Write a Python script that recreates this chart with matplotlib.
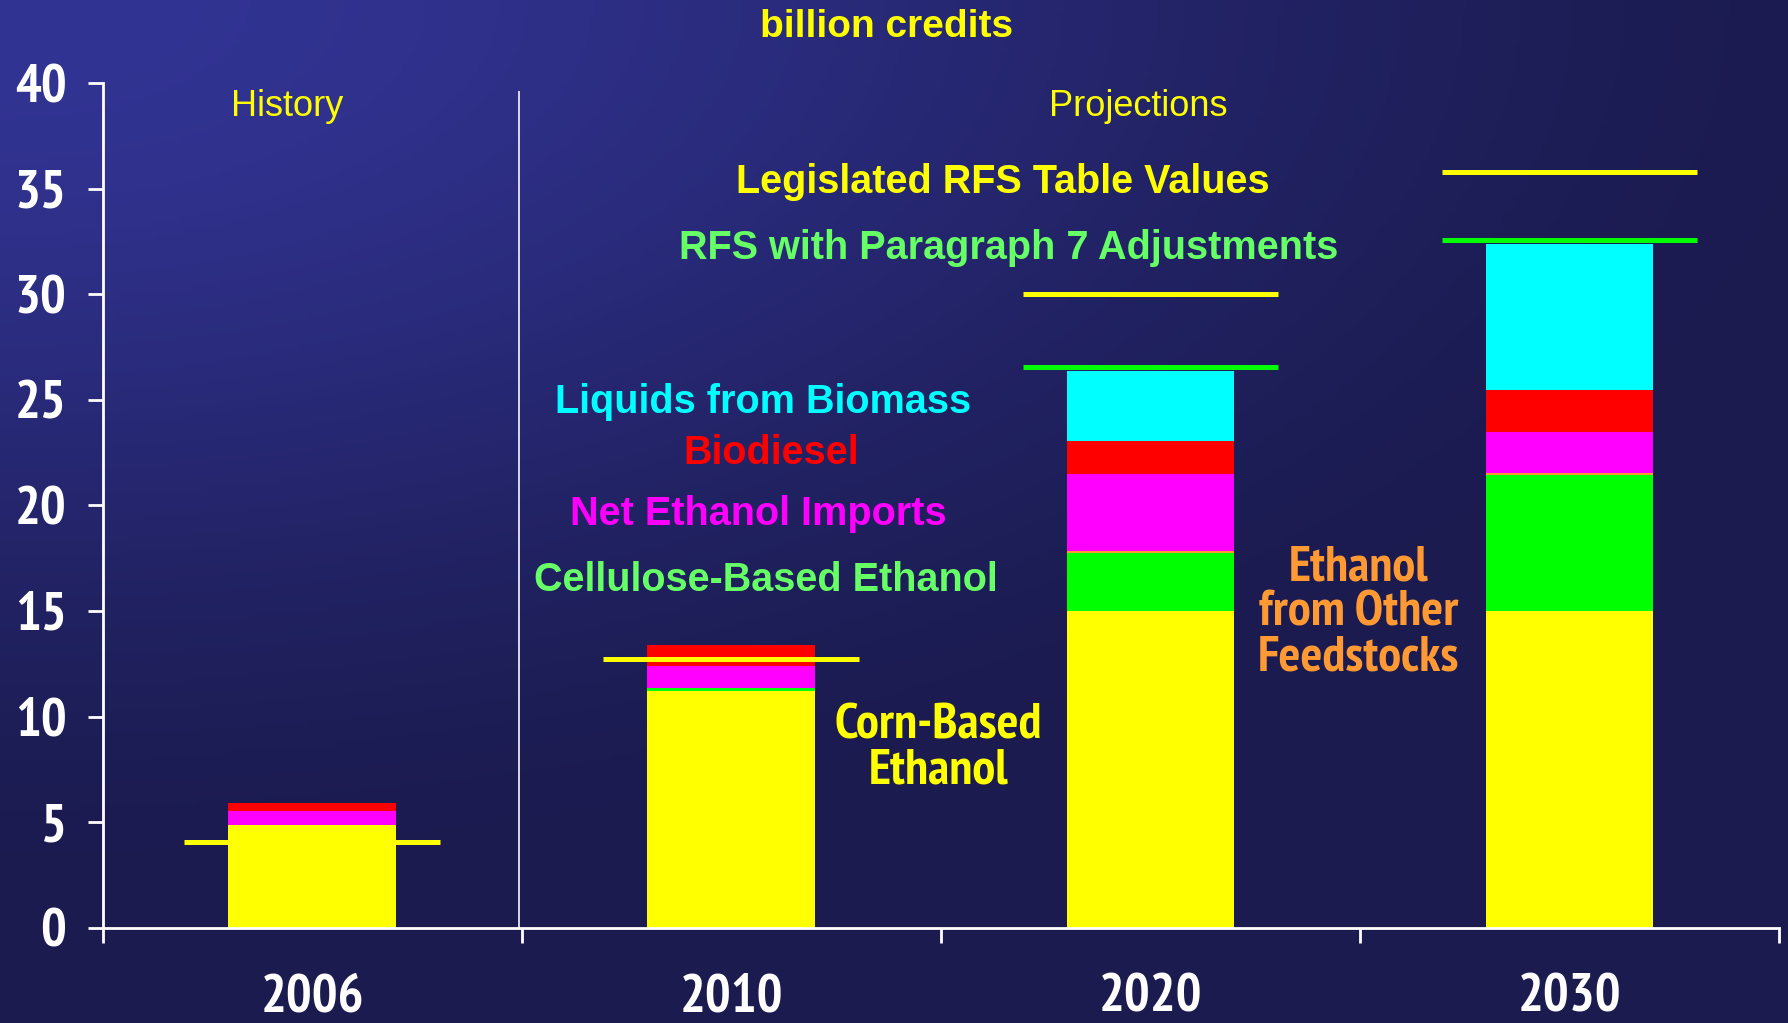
import numpy as np
import matplotlib.pyplot as plt
from matplotlib import font_manager as fm

# ---- data (billion credits) ----
years = ["2006", "2010", "2020", "2030"]
corn = [4.86, 11.2, 15.0, 15.0]
cellulose = [0.0, 0.16, 2.73, 6.46]
other_feed = [0.0, 0.0, 0.11, 0.08]
net_imports = [0.66, 1.05, 3.65, 1.94]
biodiesel = [0.38, 0.98, 1.58, 1.99]
biomass = [0.0, 0.0, 3.3, 6.94]
rfs_table = [4.07, 12.72, 30.0, 35.8]
rfs_adjusted = [np.nan, np.nan, 26.55, 32.58]

layers = [
    (corn, "#FFFF00"),
    (cellulose, "#00FF00"),
    (other_feed, "#FF9933"),
    (net_imports, "#FF00FF"),
    (biodiesel, "#FF0000"),
    (biomass, "#00FFFF"),
]

# pick a condensed face that has a real bold for the axis numbers and bar notes
bold_faces = {f.name for f in fm.fontManager.ttflist
              if isinstance(f.weight, int) and f.weight >= 700 or f.weight == "bold"}
narrow_pref = ["Liberation Sans Narrow", "Arial Narrow", "Archivo Narrow",
               "PT Sans Narrow", "Roboto Condensed", "Fira Sans Condensed",
               "IBM Plex Sans Condensed", "Asap Condensed", "Barlow Semi Condensed",
               "Encode Sans Condensed", "Saira SemiCondensed"]
narrow = next((n for n in narrow_pref if n in bold_faces), "Liberation Sans")
BOLD = ["Liberation Sans", "DejaVu Sans"]
NARROW = [narrow, "Liberation Sans", "DejaVu Sans"]

W, H = 1788, 1023
fig = plt.figure(figsize=(W / 100, H / 100), dpi=100)

# background: blue glow in the upper left fading to navy
bg = fig.add_axes([0, 0, 1, 1], zorder=-10)
gx, gy = np.meshgrid(np.linspace(0, 1, 400), np.linspace(0, 1, 240))
t = np.clip(np.sqrt((gx / 1.1) ** 2 + (gy / 0.9) ** 2), 0, 1)
t = t * t * (3 - 2 * t)
c0 = np.array([50, 52, 148]) / 255
c1 = np.array([27, 27, 80]) / 255
img = c0[None, None, :] * (1 - t[..., None]) + c1[None, None, :] * t[..., None]
bg.imshow(img, extent=[0, 1, 0, 1], aspect="auto", origin="upper")
bg.axis("off")

ax = fig.add_axes([102.6 / W, 1 - 927.5 / H, (1779 - 102.6) / W, (927.5 - 83.5) / H])
ax.patch.set_visible(False)

x = np.arange(len(years))
bottom = np.zeros(len(years))
for vals, col in layers:
    vals = np.array(vals)
    ax.bar(x, vals, width=0.4, bottom=bottom, color=col, linewidth=0, zorder=2)
    bottom += vals

ax.hlines(rfs_table, x - 0.305, x + 0.305, color="#FFFF00", lw=3.6, zorder=3)
ax.hlines(rfs_adjusted, x - 0.305, x + 0.305, color="#00FF00", lw=3.6, zorder=3)

# history / projections divider
ax.plot([0.4936, 0.4936], [0, 39.6], color="#d8d8e8", lw=1.4, zorder=1)

ax.set_xlim(-0.5, 3.5)
ax.set_ylim(0, 40)
for s in ["top", "right"]:
    ax.spines[s].set_visible(False)
for s in ["left", "bottom"]:
    ax.spines[s].set_color("white")
    ax.spines[s].set_linewidth(2)

ax.set_yticks(range(0, 41, 5))
ax.set_yticklabels([str(v) for v in range(0, 41, 5)], family=NARROW,
                   fontweight="bold", fontsize=39, color="white")
ax.tick_params(axis="y", direction="out", length=11, width=2, color="white", pad=15)

ax.set_xticks([-0.5, 0.5, 1.5, 2.5, 3.5])
ax.set_xticklabels([])
ax.tick_params(axis="x", which="major", direction="out", length=11, width=2, color="white")
ax.set_xticks(x, minor=True)
ax.set_xticklabels(years, minor=True, family=NARROW, fontweight="bold",
                   fontsize=39, color="white")
ax.tick_params(axis="x", which="minor", length=0, pad=33)

fig.text(887 / W, 1 - 27 / H, "billion credits", ha="center", va="center",
         color="#FFFF00", fontsize=28, fontweight="bold", family=BOLD)

ax.text(-0.06, 38.9, "History", ha="center", va="center", color="#FFFF00",
        fontsize=26, family=BOLD, clip_on=False)
ax.text(1.971, 38.9, "Projections", ha="center", va="center", color="#FFFF00",
        fontsize=26, family=BOLD, clip_on=False)

labels = [
    (1.648, 35.35, "Legislated RFS Table Values", "#FFFF00"),
    (1.663, 32.22, "RFS with Paragraph 7 Adjustments", "#66FF66"),
    (1.076, 24.92, "Liquids from Biomass", "#00FFFF"),
    (1.095, 22.51, "Biodiesel", "#FF0000"),
    (1.064, 19.62, "Net Ethanol Imports", "#FF00FF"),
    (1.083, 16.49, "Cellulose-Based Ethanol", "#66FF66"),
]
for lx, ly, txt, col in labels:
    ax.text(lx, ly, txt, ha="center", va="center", color=col, fontsize=28.5,
            fontweight="bold", family=BOLD, zorder=4)

ax.text(1.494, 8.5, "Corn-Based\nEthanol", ha="center", va="center",
        color="#FFFF00", fontsize=37, fontweight="bold", family=NARROW,
        linespacing=1.0, zorder=4)
ax.text(2.496, 14.9, "Ethanol\nfrom Other\nFeedstocks", ha="center", va="center",
        color="#FF9933", fontsize=37, fontweight="bold", family=NARROW,
        linespacing=1.0, zorder=4)

fig.savefig("out.png", dpi=100)
